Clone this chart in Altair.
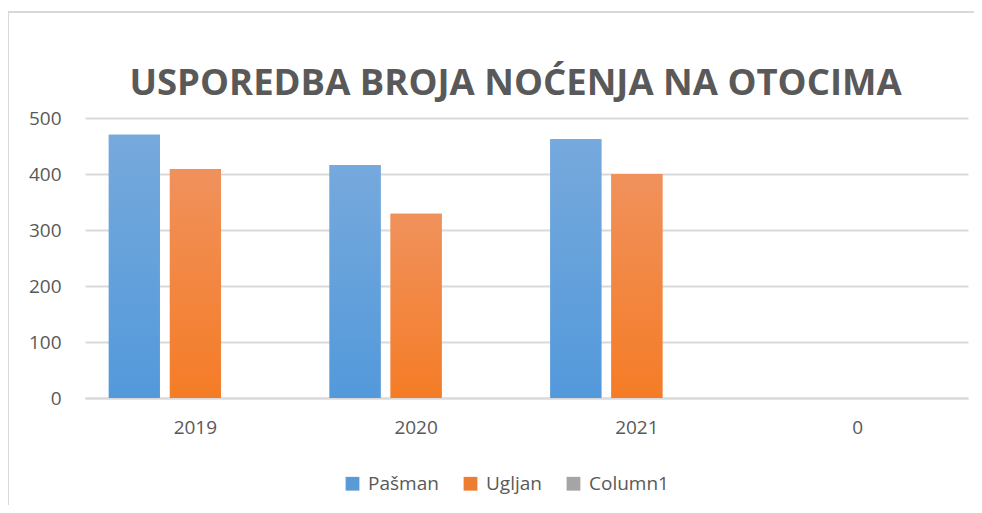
import altair as alt
import pandas as pd

categories = ["2019", "2020", "2021", "0"]
series = ["Pašman", "Ugljan", "Column1"]
pasman = [470, 416, 462, 0]
ugljan = [409, 329, 400, 0]
column1 = [0, 0, 0, 0]

rows = []
for s, vals in zip(series, [pasman, ugljan, column1]):
    for c, v in zip(categories, vals):
        rows.append({"Godina": c, "Serija": s, "Vrijednost": v})
df = pd.DataFrame(rows)

FONT = "Open Sans"
TXT = "#595959"

x_enc = alt.X("Godina:N", sort=categories, title=None,
              scale=alt.Scale(paddingInner=0, paddingOuter=0),
              axis=alt.Axis(labelAngle=0, labelFontSize=19, labelColor=TXT, labelFont=FONT,
                            ticks=False, domain=True, domainColor="#D9D9D9", domainWidth=2,
                            labelPadding=20, grid=False))
xo_enc = alt.XOffset("Serija:N", sort=series,
                     scale=alt.Scale(domain=series, paddingInner=0.164, paddingOuter=0.39))
y_enc = alt.Y("Vrijednost:Q", title=None,
              scale=alt.Scale(domain=[0, 500]),
              axis=alt.Axis(values=[0, 100, 200, 300, 400, 500], labelFontSize=19, labelColor=TXT,
                            labelFont=FONT, ticks=False, domain=False, gridColor="#D9D9D9",
                            gridWidth=2, labelPadding=24))

base = alt.Chart(df).mark_bar().encode(
    x=x_enc, xOffset=xo_enc, y=y_enc,
    color=alt.Color("Serija:N", sort=series,
                    scale=alt.Scale(domain=series, range=["#5B9BD5", "#ED7D31", "#A5A5A5"]),
                    legend=alt.Legend(title=None, orient="none", direction="horizontal",
                                      legendX=258, legendY=356, symbolType="square",
                                      symbolSize=190, symbolStrokeWidth=0, labelFontSize=19,
                                      labelFont=FONT, labelColor=TXT, columnPadding=22,
                                      labelOffset=6))
)

def grad(top, bottom):
    return alt.Gradient(gradient="linear", x1=0, x2=0, y1=0, y2=1,
                        stops=[alt.GradientStop(color=top, offset=0),
                               alt.GradientStop(color=bottom, offset=1)])

blue = alt.Chart(df).transform_filter(alt.datum.Serija == "Pašman").mark_bar(
    fill=grad("#76A9DC", "#5399DB")).encode(x=x_enc, xOffset=xo_enc, y=y_enc)
orange = alt.Chart(df).transform_filter(alt.datum.Serija == "Ugljan").mark_bar(
    fill=grad("#F0915C", "#F57C26")).encode(x=x_enc, xOffset=xo_enc, y=y_enc)

frame_left = alt.Chart(df).mark_rule(color="#D9D9D9", strokeWidth=1.5).encode(
    x=alt.value(-77), y=alt.value(-106), y2=alt.value(400))
frame_top = alt.Chart(df).mark_rule(color="#D9D9D9", strokeWidth=1.5).encode(
    x=alt.value(-77), x2=alt.value(900), y=alt.value(-106))

chart = alt.layer(base, blue, orange, frame_left, frame_top).properties(
    width=883, height=280,
    autosize=alt.AutoSizeParams(type="none"),
    padding={"left": 77, "top": 110, "right": 6, "bottom": 107},
    title=alt.TitleParams("USPOREDBA BROJA NOĆENJA NA OTOCIMA", font=FONT, fontSize=36.5,
                          fontWeight="bold", color=TXT, anchor="middle", offset=18, dx=-11,
                          dy=109),
).configure_view(stroke=None)

chart.save("out.html", embed_options={"renderer": "svg", "actions": False})
